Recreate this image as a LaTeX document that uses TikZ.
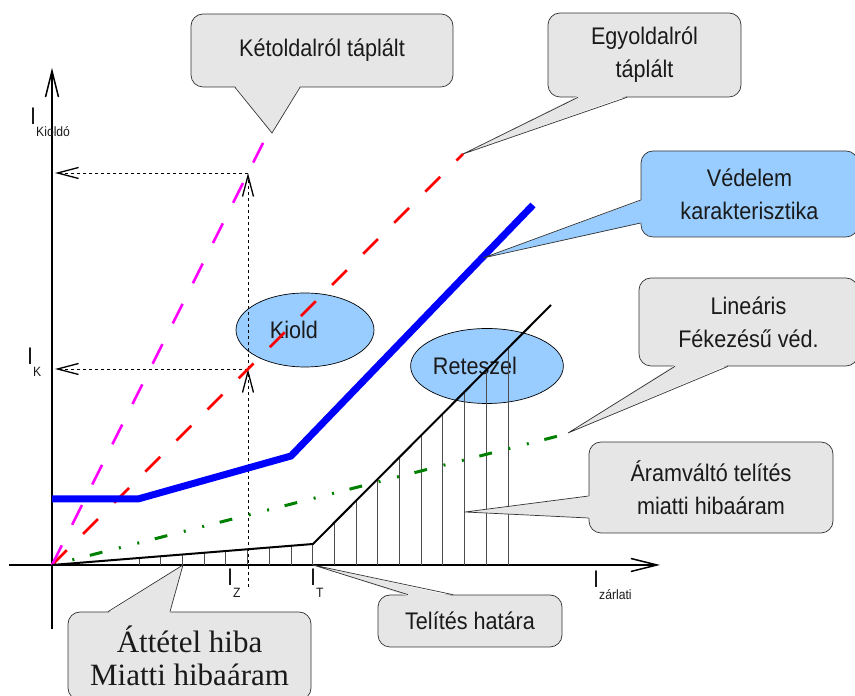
\documentclass[tikz,border=0pt]{standalone}
\usepackage{fontspec}
\setmainfont[FakeStretch=0.9]{Liberation Sans}
\newfontfamily\bubbleserif{Liberation Serif}
\usetikzlibrary{arrows.meta,shapes.geometric}

\definecolor{bubblegray}{HTML}{E6E6E6}
\definecolor{bubbleblue}{HTML}{99CCFF}
\definecolor{inkgray}{HTML}{1A1A1A}
\definecolor{pinkline}{HTML}{FF00FF}
\definecolor{redline}{HTML}{FF0000}
\definecolor{greenline}{HTML}{008000}
\definecolor{blueline}{HTML}{0000FF}

\newcommand{\subfont}{\fontsize{13.5}{13.5}\selectfont}

\begin{document}
\begin{tikzpicture}[x=1pt,y=1pt,
  font=\fontsize{24}{33}\selectfont,
  axisline/.style={line width=1.3pt,-{Straight Barb[length=26pt,width=13pt,line width=1.5pt]}},
  guide/.style={line width=0.7pt,dash pattern=on 3pt off 3pt,-{Straight Barb[length=21pt,width=11pt,line width=1.3pt]}},
  hatchline/.style={line width=0.8pt,black!70},
  magline/.style={line width=2.5pt,pinkline,dash pattern=on 22pt off 23pt},
  redstroke/.style={line width=2.5pt,redline,dash pattern=on 21pt off 23pt},
  greenstroke/.style={line width=3pt,greenline,dash pattern=on 13pt off 17pt on 2pt off 17pt on 2pt off 16pt,dash phase=28pt},
  bluestroke/.style={line width=7pt,blueline},
  blackstroke/.style={line width=2pt,black},
  oval/.style={ellipse,draw,line width=0.7pt,fill=bubbleblue,text=inkgray,inner sep=0pt},
  graybubble/.style={draw=black!80,line width=0.7pt,fill=bubblegray,rounded corners=12pt,align=center,text=inkgray,inner sep=0pt},
  bluebubble/.style={graybubble,fill=bubbleblue},
  pointer/.style={draw=black!80,line width=0.7pt},
  axlabel/.style={anchor=base west,inner sep=0pt,text=inkgray,font=\fontsize{24}{24}\selectfont}]

\useasboundingbox (0,0) rectangle (855,696);

\coordinate (O) at (52,131);
\coordinate (Mend) at (268,563);
\coordinate (Rend) at (463,542);
\coordinate (B1) at (52,197);
\coordinate (B2) at (138,197);
\coordinate (B3) at (291,240);
\coordinate (B4) at (533,491);
\coordinate (T) at (313,152);
\coordinate (Kend) at (551,391);
\coordinate (Gend) at (570,263);
\coordinate (Zfoot) at (248,109);
\coordinate (Zr) at (248,327);
\coordinate (Zm) at (248,523);
\coordinate (YZr) at (55,327);
\coordinate (YZm) at (55,523);
\coordinate (ketTip) at (272,563);
\coordinate (vedTip) at (483,438);
\coordinate (linTip) at (568,263);
\coordinate (araTip) at (465,184);
\coordinate (telTip) at (313,131);
\coordinate (attTip) at (183,131);

% regions
\node[oval,minimum width=138pt,minimum height=74pt] (kiold) at (305,366) {Kiold\hspace*{22pt}};
\node[oval,minimum width=148pt,minimum height=75pt] (retesz) at (487,330) {Reteszel\hspace*{24pt}};

% axes
\draw[axisline] (9,131) -- (660,131);
\draw[axisline] (52,67) -- (52,628);

% hatching under the CT curve
\foreach \k in {0,...,17} {
  \pgfmathsetmacro{\hx}{139+21.7*\k}
  \pgfmathsetmacro{\hy}{max(131+(\hx-52)*0.0805,152+(\hx-313)*1.004)}
  \draw[hatchline] (\hx,131) -- (\hx,\hy);
}

% I_Z guides
\draw[guide] (Zfoot) -- (Zr);
\draw[guide] (Zr) -- (Zm);
\draw[guide] (Zr) -- (YZr);
\draw[guide] (Zm) -- (YZm);

% characteristics
\draw[greenstroke] (O) -- (Gend);
\draw[redstroke] (O) -- (Rend);
\draw[magline] (O) -- (Mend);
\draw[blackstroke] (O) -- (T) -- (Kend);
\draw[bluestroke] (B1) -- (B2) -- (B3) -- (B4);

% axis labels
\node[axlabel] (ikioldo) at (30,571) {I\raisebox{-12pt}{\subfont Kioldó}};
\node[axlabel] (ik) at (27,331) {I\raisebox{-12pt}{\subfont K}};
\node[axlabel] (iz) at (227,110) {I\raisebox{-12pt}{\subfont Z}};
\node[axlabel] (it) at (310,110) {I\raisebox{-12pt}{\subfont T}};
\node[axlabel] (izarlati) at (593,108) {I\raisebox{-12pt}{\subfont zárlati}};

% callouts
\node[graybubble,minimum width=262pt,minimum height=73pt] (ket) at (322,645.5) {Kétoldalról táplált};
\fill[bubblegray] ([xshift=-87pt,yshift=1.5pt]ket.south) -- (ketTip) -- ([xshift=-22pt,yshift=1.5pt]ket.south) -- cycle;
\draw[pointer] ([xshift=-87pt]ket.south) -- (ketTip) -- ([xshift=-22pt]ket.south);

\node[graybubble,minimum width=193pt,minimum height=84pt] (egy) at (644.5,641) {Egyoldalról\\táplált};
\fill[bubblegray] ([xshift=-66.5pt,yshift=1.5pt]egy.south) -- (Rend) -- ([xshift=-17.5pt,yshift=1.5pt]egy.south) -- cycle;
\draw[pointer] ([xshift=-66.5pt]egy.south) -- (Rend) -- ([xshift=-17.5pt]egy.south);

\node[bluebubble,minimum width=217pt,minimum height=86pt] (ved) at (749.5,502) {Védelem\\karakterisztika};
\fill[bubbleblue] ([xshift=1.5pt,yshift=-6pt]ved.west) -- (vedTip) -- ([xshift=1.5pt,yshift=-29pt]ved.west) -- cycle;
\draw[pointer] ([yshift=-6pt]ved.west) -- (vedTip) -- ([yshift=-29pt]ved.west);

\node[graybubble,minimum width=219pt,minimum height=88pt] (lin) at (748.5,374) {Lineáris\\Fékezésű véd.};
\fill[bubblegray] ([xshift=-73.5pt,yshift=1.5pt]lin.south) -- (linTip) -- ([xshift=-20.5pt,yshift=1.5pt]lin.south) -- cycle;
\draw[pointer] ([xshift=-73.5pt]lin.south) -- (linTip) -- ([xshift=-20.5pt]lin.south);

\node[graybubble,minimum width=244pt,minimum height=91pt] (ara) at (711,208.5) {Áramváltó telítés\\miatti hibaáram};
\fill[bubblegray] ([xshift=1.5pt,yshift=-8.5pt]ara.west) -- (araTip) -- ([xshift=1.5pt,yshift=-30.5pt]ara.west) -- cycle;
\draw[pointer] ([yshift=-8.5pt]ara.west) -- (araTip) -- ([yshift=-30.5pt]ara.west);

\node[graybubble,minimum width=184pt,minimum height=52pt] (tel) at (470,75) {Telítés határa};
\fill[bubblegray] ([xshift=-62pt,yshift=-1.5pt]tel.north) -- (telTip) -- ([xshift=-17pt,yshift=-1.5pt]tel.north) -- cycle;
\draw[pointer] ([xshift=-62pt]tel.north) -- (telTip) -- ([xshift=-17pt]tel.north);

\node[graybubble,minimum width=243pt,minimum height=88pt,font=\bubbleserif\fontsize{31}{33}\selectfont] (att) at (189.5,40) {Áttétel hiba\\Miatti hibaáram};
\fill[bubblegray] ([xshift=-81.5pt,yshift=-1.5pt]att.north) -- (attTip) -- ([xshift=-19.5pt,yshift=-1.5pt]att.north) -- cycle;
\draw[pointer] ([xshift=-81.5pt]att.north) -- (attTip) -- ([xshift=-19.5pt]att.north);

\end{tikzpicture}
\end{document}
